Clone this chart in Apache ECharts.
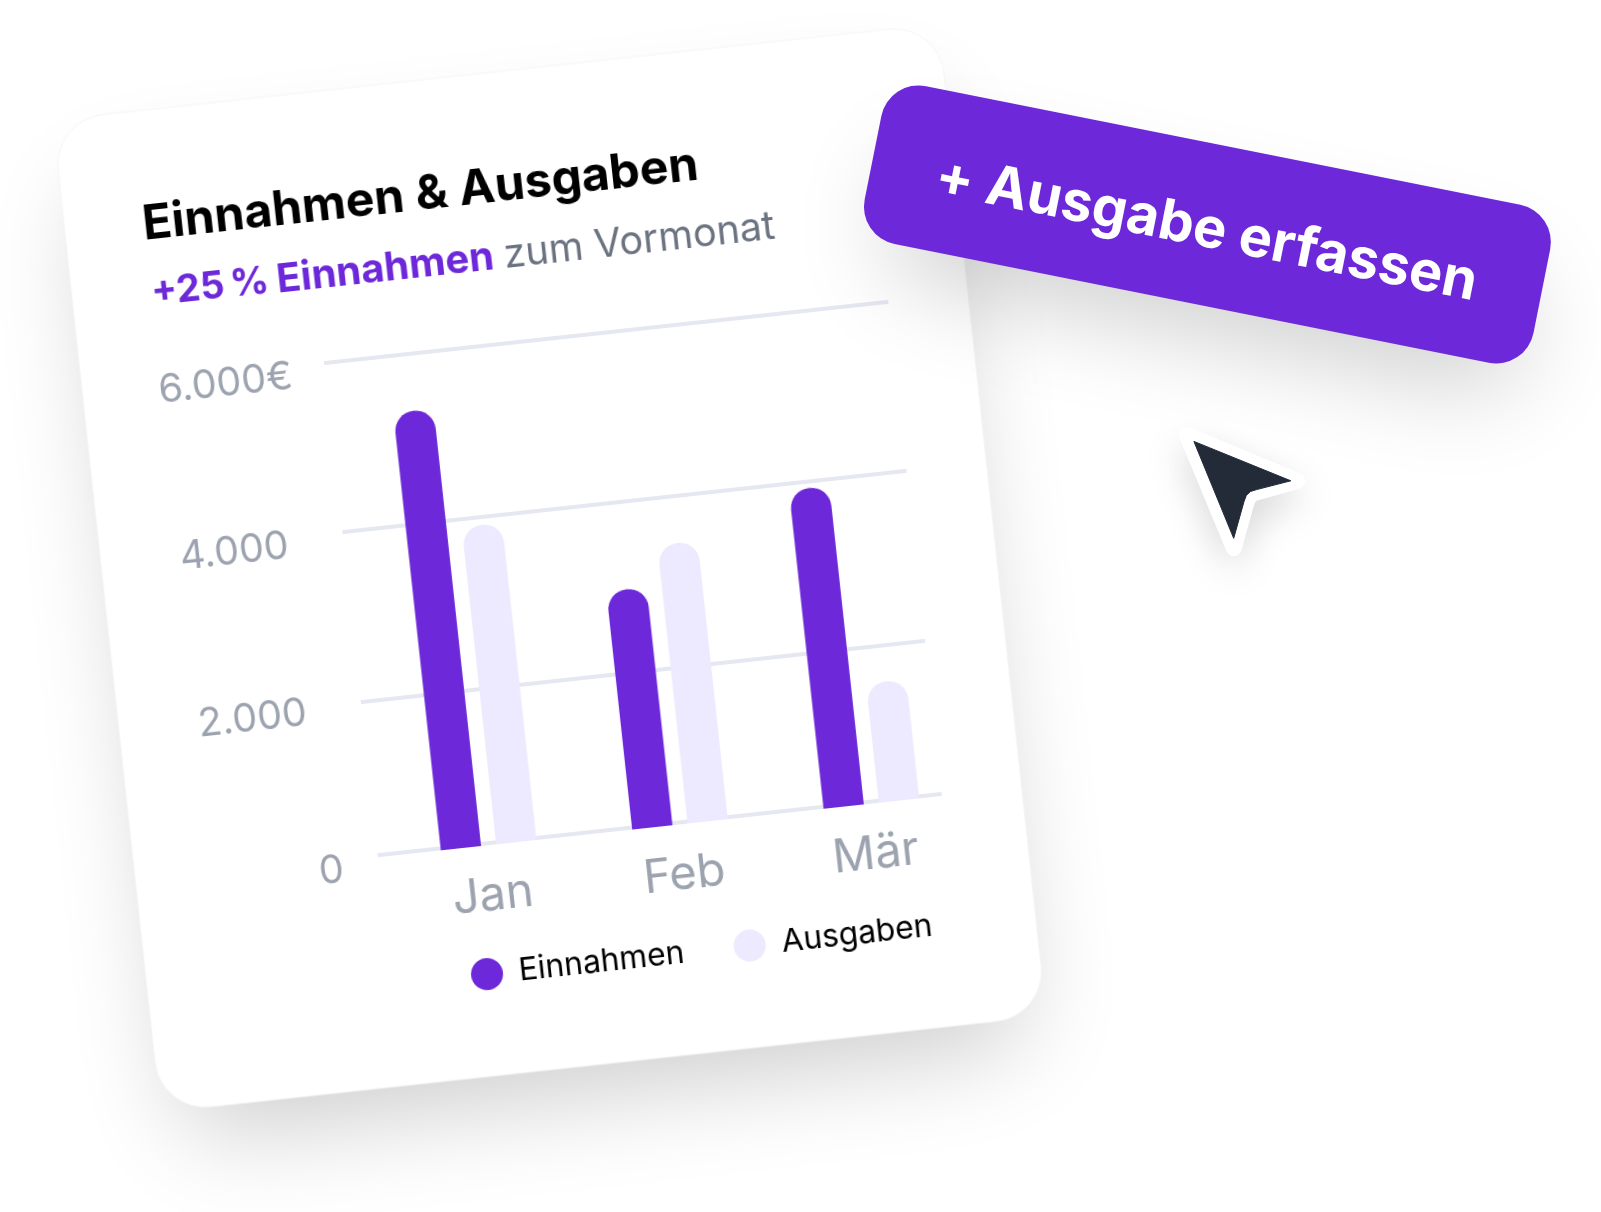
<!DOCTYPE html>
<html><head><meta charset="utf-8">
<style>
html,body{margin:0;padding:0;background:#fff;width:1601px;height:1212px;overflow:hidden}
#card{position:absolute;left:-100px;top:0;width:1200px;height:1320px;transform-origin:100px 0;transform:rotate(-6.2deg)}
#overlay{position:absolute;left:0;top:0;width:1601px;height:1212px}
</style>
<script src="https://cdn.jsdelivr.net/npm/echarts@6/dist/echarts.min.js"></script>
</head><body>
<div id="card"></div><div id="overlay"></div>
<script>
const categories = ['Jan','Feb','Mär'];
const einnahmen = [5325,2975,3925];
const ausgaben = [3910,3450,1575];
const axisBase = 190;      // the picture's "0" line sits at this height on the 2.000-step scale
const barBase = 167;       // the bars start slightly below that line
const yTicks = [axisBase,2000,4000,6000];
const yTickLabels = ['0','2.000','4.000','6.000€'];
const titleText = 'Einnahmen & Ausgaben';
const subDelta = '+25\u202f%';
const subHighlight = 'Einnahmen';
const subRest = 'zum Vormonat';
const buttonText = '+ Ausgabe erfassen';

const PURPLE='#6D28D9', LILAC='#EDE9FE', GREY='#9CA3AF', FONT='Inter';
const plotTop=395.5, plotH=495.5;
const yPad={ '0':[22,2,0,0], '2.000':[10,22,0,0], '4.000':[16,22,0,0], '6.000€':[22,0,0,0] };

const rich={};
yTickLabels.forEach((t,i)=>{rich['t'+i]={fontFamily:FONT,fontSize:39.5,color:GREY,padding:yPad[t]};});

const card=echarts.init(document.getElementById('card'),null,{renderer:'canvas'});
card.setOption({
  animation:false,
  textStyle:{fontFamily:FONT},
  graphic:[
    {type:'rect',z:-3,silent:true,shape:{x:163.6,y:149,width:843,height:950,r:36},
     style:{fill:'#fff',shadowBlur:100,shadowOffsetY:50,shadowColor:'rgba(0,0,0,0.2)'}},
    {type:'rect',z:-2,silent:true,shape:{x:139.6,y:125,width:891,height:998,r:50},
     style:{fill:'#fff',stroke:'#F5F5F7',lineWidth:1}}
  ],
  title:[
    {text:titleText,left:217.5,top:216,padding:0,textStyle:{fontFamily:FONT,fontWeight:700,fontSize:48.2,color:'#000'}},
    {text:'{d|'+subDelta+'} {a|'+subHighlight+'} {b|'+subRest+'}',left:219,top:289,padding:0,
     textStyle:{fontFamily:FONT,fontSize:34,color:PURPLE,
       rich:{d:{fontFamily:FONT,fontWeight:700,fontSize:38,color:PURPLE},
             a:{fontFamily:FONT,fontWeight:700,fontSize:40,color:PURPLE},
             b:{fontFamily:FONT,fontWeight:400,fontSize:39.6,color:'#6B7280',padding:[0,0,0,2]}}}}
  ],
  legend:{left:463,top:1005,padding:0,itemWidth:32,itemHeight:32,itemGap:50,icon:'circle',
    data:['Einnahmen','Ausgaben'],
    textStyle:{fontFamily:FONT,fontSize:31.8,color:'#000',padding:[10,0,0,11]}},
  grid:[
    {left:383,top:plotTop,width:567.4,height:plotH},
    {left:398.25,top:plotTop,width:577.5,height:plotH+2}
  ],
  xAxis:[
    {gridIndex:0,type:'category',data:categories,show:false},
    {gridIndex:1,type:'category',data:categories,axisLine:{show:false},axisTick:{show:false},
     axisLabel:{fontFamily:FONT,fontSize:47,color:GREY,margin:27,padding:[0,2,0,0]}}
  ],
  yAxis:[
    {gridIndex:0,type:'value',min:axisBase,max:6000,
     axisLine:{show:false},
     axisTick:{show:false,customValues:yTicks},
     axisLabel:{customValues:yTicks,margin:33,align:'right',
       formatter:v=>{const i=yTicks.indexOf(v);return '{t'+i+'|'+yTickLabels[i]+'}';},rich},
     splitLine:{show:true,lineStyle:{color:'#E5E7F1',width:4}}},
    {gridIndex:1,type:'value',min:barBase,max:6000,show:false,splitLine:{show:false}}
  ],
  series:[
    {name:'Einnahmen',type:'bar',xAxisIndex:1,yAxisIndex:1,data:einnahmen,barWidth:40.5,barGap:'37.5%',
     itemStyle:{color:PURPLE,borderRadius:[20,20,0,0]}},
    {name:'Ausgaben',type:'bar',xAxisIndex:1,yAxisIndex:1,data:ausgaben,barWidth:40.5,barGap:'37.5%',
     itemStyle:{color:LILAC,borderRadius:[20,20,0,0]}}
  ]
});

const overlay=echarts.init(document.getElementById('overlay'),null,{renderer:'canvas'});
const btnRot=-11.3*Math.PI/180;
const cursorPoints=[[1193.9,441.4],[1290.8,480.8],[1256.6,489.6],[1250.5,491.5],[1246.3,495.4],[1243.9,501.9],[1233.7,538.3]];
const cursorOutline=[[1187,435],[1297,481],[1258,492],[1252,494],[1248.5,497.5],[1246,504],[1233.7,548]];
overlay.setOption({
  animation:false,
  graphic:[
    {type:'group',x:0,y:0,rotation:btnRot,children:[
      {type:'rect',silent:true,shape:{x:911,y:-73,width:634,height:113,r:24},
       style:{fill:PURPLE,shadowBlur:100,shadowOffsetY:50,shadowColor:'rgba(0,0,0,0.2)'}},
      {type:'rect',silent:true,shape:{x:887,y:-97,width:682,height:161,r:38},style:{fill:PURPLE}},
      {type:'text',silent:true,x:1228,y:-11,style:{text:buttonText,fill:'#fff',
        font:'700 56px Inter',align:'center',verticalAlign:'middle'}}
    ]},
    {type:'polygon',silent:true,shape:{points:cursorOutline},
     style:{fill:'#fff',stroke:'#fff',lineWidth:16,lineJoin:'round',shadowBlur:40,shadowOffsetY:14,shadowColor:'rgba(0,0,0,0.12)'}},
    {type:'polygon',silent:true,shape:{points:cursorPoints},
     style:{fill:'#232B39',stroke:'#232B39',lineWidth:1}}
  ]
});
</script>
</body></html>
